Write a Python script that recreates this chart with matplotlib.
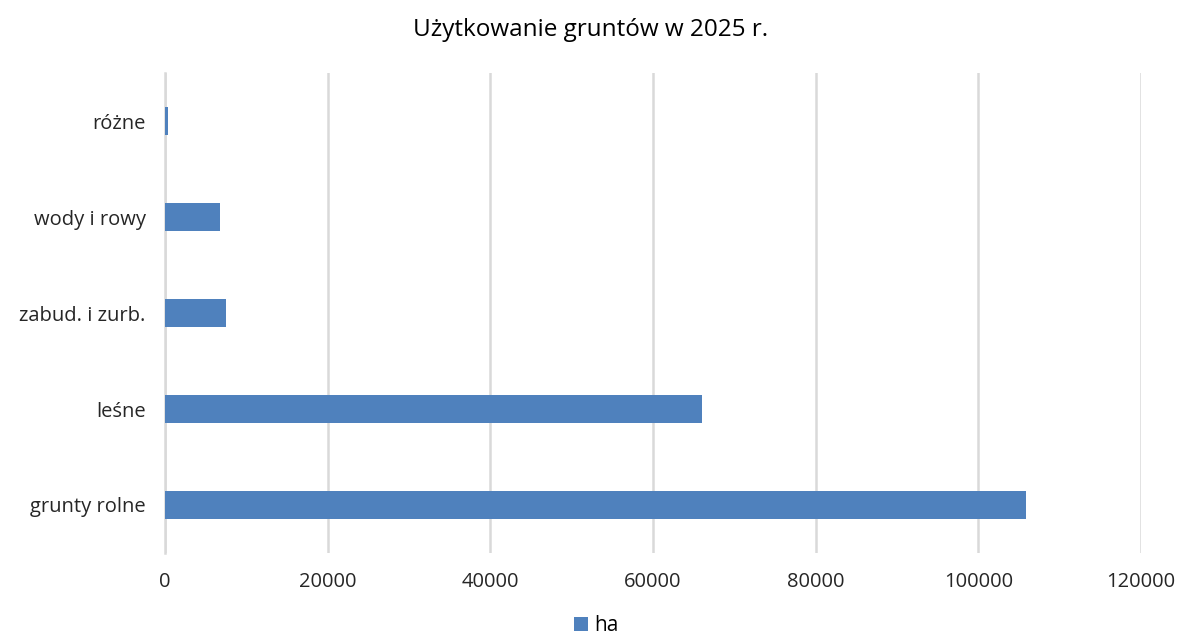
import matplotlib
matplotlib.use("Agg")
import matplotlib.pyplot as plt

categories = ["grunty rolne", "leśne", "zabud. i zurb.", "wody i rowy", "różne"]
values_ha = [105900, 66070, 7540, 6725, 430]
x_ticks = [0, 20000, 40000, 60000, 80000, 100000, 120000]
series_name = "ha"
title = "Użytkowanie gruntów w 2025 r."

plt.rcParams['font.family'] = ['Open Sans', 'DejaVu Sans']

fig = plt.figure(figsize=(11.81, 6.41), dpi=100)
ax = fig.add_axes([0.1397, 0.1373, 0.9661 - 0.1397, 0.886 - 0.1373])

ax.barh(range(len(categories)), values_ha, height=0.3, color="#4F81BD",
        label=series_name, zorder=3)
ax.set_xlim(0, 120000)
ax.set_ylim(-0.5, len(categories) - 0.5)
ax.set_yticks(range(len(categories)))
ax.set_yticklabels(categories, fontsize=14.5, color="#262626")
ax.set_xticks(x_ticks)
ax.set_xticklabels([str(t) for t in x_ticks], fontsize=14.5, color="#262626")
ax.tick_params(axis="both", length=0)
ax.tick_params(axis="y", pad=14)
ax.tick_params(axis="x", pad=14)
ax.grid(axis="x", color="#D9D9D9", linewidth=1.8, zorder=0)
for s in ["top", "right", "bottom"]:
    ax.spines[s].set_visible(False)
ax.spines["left"].set_color("#D9D9D9")
ax.spines["left"].set_linewidth(1.8)

fig.suptitle(title, fontsize=17.5, y=0.972, color="#000000")
fig.legend(loc="lower center", bbox_to_anchor=(0.505, -0.012), frameon=False,
           fontsize=15, handlelength=0.7, handleheight=0.7, handletextpad=0.3,
           borderpad=0.1)

fig.savefig("out.png", dpi=100)
